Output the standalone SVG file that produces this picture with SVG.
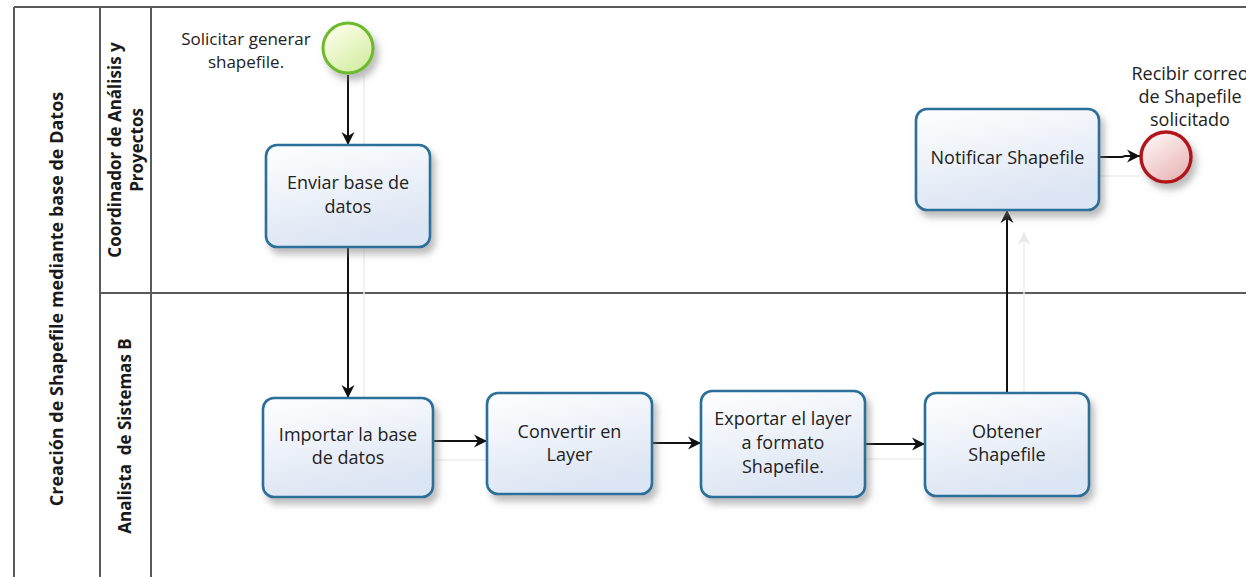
<svg xmlns="http://www.w3.org/2000/svg" width="1246" height="577" viewBox="0 0 1246 577">
<style>
.lane{stroke:#5a5a5a;stroke-width:2;fill:none}
.task{fill:url(#gTask);stroke:#2a6f9a;stroke-width:2.6;filter:url(#sh)}
.t{font-family:"Open Sans","Noto Sans","Liberation Sans",sans-serif;font-size:18px;fill:#222;text-anchor:middle}
.s{font-size:17px}
.h{font-family:"Open Sans","Noto Sans","Liberation Sans",sans-serif;font-size:17px;font-weight:bold;fill:#1a1a1a;text-anchor:middle}
.big{font-size:18px}
.c{stroke:#111;stroke-width:2;fill:none;marker-end:url(#arr)}
.g{stroke:#ececec;stroke-width:1.5;fill:none}
</style>
<defs>
<linearGradient id="gTask" x1="0" y1="0" x2="0.35" y2="1">
<stop offset="0" stop-color="#ffffff"/>
<stop offset="1" stop-color="#dce5f3"/>
</linearGradient>
<linearGradient id="gStart" x1="0.2" y1="0.1" x2="0.8" y2="0.95">
<stop offset="0" stop-color="#fbfde6"/>
<stop offset="1" stop-color="#d3eda2"/>
</linearGradient>
<linearGradient id="gEnd" x1="0.2" y1="0.1" x2="0.8" y2="0.95">
<stop offset="0" stop-color="#fdf1f1"/>
<stop offset="1" stop-color="#e9b6b6"/>
</linearGradient>
<filter id="sh" x="-20%" y="-20%" width="150%" height="160%">
<feDropShadow dx="4" dy="6" stdDeviation="3.5" flood-color="#777" flood-opacity="0.5"/>
</filter>
<marker id="arr" markerWidth="14" markerHeight="14" refX="13" refY="7" orient="auto" markerUnits="userSpaceOnUse">
<path d="M0,0.5 L13,7 L0,13.5 L4,7 Z" fill="#111"/>
</marker>
<marker id="arrg" markerWidth="14" markerHeight="14" refX="13" refY="7" orient="auto" markerUnits="userSpaceOnUse">
<path d="M0,0.5 L13,7 L0,13.5 L4,7 Z" fill="#eaeaea"/>
</marker>
</defs>
<rect width="1246" height="577" fill="#ffffff"/>

<g id="pool">
<line class="lane" x1="14" y1="7" x2="1246" y2="7"/>
<line class="lane" x1="14" y1="7" x2="14" y2="577"/>
<line class="lane" x1="100" y1="7" x2="100" y2="577"/>
<line class="lane" x1="151" y1="7" x2="151" y2="577"/>
<line class="lane" x1="100" y1="293" x2="1246" y2="293"/>
<text class="h big" transform="translate(57,299) rotate(-90)" y="6">Creación de Shapefile mediante base de Datos</text>
</g>
<g id="lane1">
<text class="h" transform="translate(115,150) rotate(-90)" y="6">Coordinador de Análisis y</text>
<text class="h" transform="translate(137,150) rotate(-90)" y="6">Proyectos</text>
</g>
<g id="lane2">
<text class="h" transform="translate(125,436) rotate(-90)" y="6">Analista&#160; de Sistemas B</text>
</g>

<g id="connectors">
<path class="g" d="M364,75 V398"/>
<path class="g" d="M433,460 H487"/>
<path class="g" d="M865,459 H925"/>
<path class="g" d="M1100,176 H1140"/>
<path class="g" d="M1024,393 V232" marker-end="url(#arrg)"/>
<path class="c" d="M348,75 V145"/>
<path class="c" d="M348,247 V398"/>
<path class="c" d="M433,441 H487"/>
<path class="c" d="M652,443 H701"/>
<path class="c" d="M865,444 H925"/>
<path class="c" d="M1007,393 V210"/>
<path class="c" d="M1099,157 H1122 L1125,156 H1140"/>
</g>

<g id="start">
<circle cx="348" cy="48" r="25" fill="url(#gStart)" stroke="#6cbb2b" stroke-width="3" filter="url(#sh)"/>
<text class="t s" x="246" y="45">Solicitar generar</text>
<text class="t s" x="246" y="68">shapefile.</text>
</g>

<g id="enviar">
<rect class="task" x="266" y="145" width="164" height="102" rx="11"/>
<text class="t" x="348" y="189">Enviar base de</text>
<text class="t" x="348" y="213">datos</text>
</g>

<g id="importar">
<rect class="task" x="263" y="398" width="170" height="99" rx="11"/>
<text class="t" x="348" y="441">Importar la base</text>
<text class="t" x="348" y="464">de datos</text>
</g>

<g id="convertir">
<rect class="task" x="487" y="393" width="165" height="101" rx="11"/>
<text class="t" x="569.5" y="438">Convertir en</text>
<text class="t" x="569.5" y="461">Layer</text>
</g>

<g id="exportar">
<rect class="task" x="701" y="391" width="164" height="106" rx="11"/>
<text class="t" x="783" y="425">Exportar el layer</text>
<text class="t" x="783" y="449">a formato</text>
<text class="t" x="783" y="473">Shapefile.</text>
</g>

<g id="obtener">
<rect class="task" x="925" y="393" width="164" height="103" rx="11"/>
<text class="t" x="1007" y="438">Obtener</text>
<text class="t" x="1007" y="461">Shapefile</text>
</g>

<g id="notificar">
<rect class="task" x="916" y="109" width="183" height="101" rx="11"/>
<text class="t" x="1007.5" y="164">Notificar Shapefile</text>
</g>

<g id="end">
<circle cx="1166" cy="157" r="25" fill="url(#gEnd)" stroke="#b0191d" stroke-width="3.5" filter="url(#sh)"/>
<text class="t" x="1190" y="80">Recibir correo</text>
<text class="t" x="1190" y="103">de Shapefile</text>
<text class="t" x="1190" y="126">solicitado</text>
</g>
</svg>
